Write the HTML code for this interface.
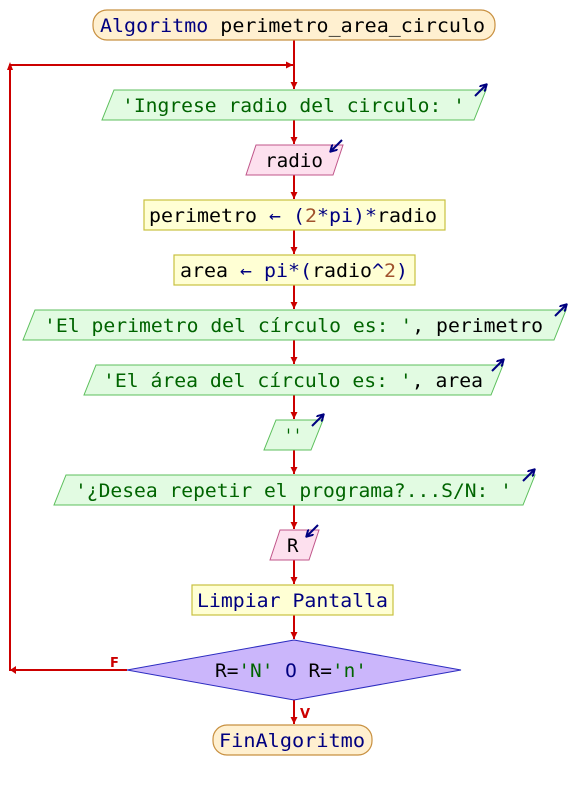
<!DOCTYPE html>
<html><head><meta charset="utf-8"><style>
html,body{margin:0;padding:0;background:#fff;}
svg{display:block;}
text{font-family:"DejaVu Sans Mono","Liberation Mono",monospace;font-size:19px;}
.k{fill:#000080}.s{fill:#006400}.v{fill:#000}.n{fill:#a0522d}
.out{fill:#e2fbe2;stroke:#5cbf5c;stroke-width:1}
.inp{fill:#fde0ee;stroke:#c0568a;stroke-width:1}
.proc{fill:#ffffd4;stroke:#c8c040;stroke-width:1.2}
.term{fill:#fff0d0;stroke:#c89040;stroke-width:1.2}
.ln{stroke:#cc0000;stroke-width:2;fill:none}
.ah{fill:#cc0000}
.sa{stroke:#000080;stroke-width:2;fill:none}
</style></head><body>
<svg width="588" height="790" viewBox="0 0 588 790" xmlns="http://www.w3.org/2000/svg">
<defs>
<marker id="a" markerWidth="10" markerHeight="10" refX="8" refY="5" orient="auto" markerUnits="userSpaceOnUse"><path d="M1,1.5 L8,5 L1,8.5 z" fill="#cc0000"/></marker>
<marker id="b" markerWidth="8" markerHeight="8" refX="6" refY="4" orient="auto" markerUnits="userSpaceOnUse"><path d="M0,0 L7,4 L0,8" stroke="#000080" stroke-width="2" fill="none"/></marker>
</defs>
<line class="ln" x1="294" y1="40" x2="294" y2="89" marker-end="url(#a)"/>
<polyline class="ln" points="127,670 10,670 10,65 293,65" marker-end="url(#a)"/>
<path d="M10,62 L7,70 L13,70 z" class="ah"/>
<path d="M10,670 L16,666 L16,674 z" class="ah"/>
<line class="ln" x1="294" y1="120" x2="294" y2="144" marker-end="url(#a)"/>
<line class="ln" x1="294" y1="175" x2="294" y2="199" marker-end="url(#a)"/>
<line class="ln" x1="294" y1="230" x2="294" y2="254" marker-end="url(#a)"/>
<line class="ln" x1="294" y1="285" x2="294" y2="309" marker-end="url(#a)"/>
<line class="ln" x1="294" y1="340" x2="294" y2="364" marker-end="url(#a)"/>
<line class="ln" x1="294" y1="395" x2="294" y2="419" marker-end="url(#a)"/>
<line class="ln" x1="294" y1="450" x2="294" y2="474" marker-end="url(#a)"/>
<line class="ln" x1="294" y1="505" x2="294" y2="529" marker-end="url(#a)"/>
<line class="ln" x1="294" y1="560" x2="294" y2="584" marker-end="url(#a)"/>
<line class="ln" x1="294" y1="615" x2="294" y2="639" marker-end="url(#a)"/>
<line class="ln" x1="294" y1="700" x2="294" y2="724" marker-end="url(#a)"/>
<text x="110" y="667" style="font-family:'DejaVu Sans',sans-serif;font-size:13px;font-weight:bold;fill:#cc0000">F</text>
<text x="300" y="718" style="font-family:'DejaVu Sans',sans-serif;font-size:13px;font-weight:bold;fill:#cc0000">V</text>

<rect class="term" x="93" y="10" width="402" height="30" rx="14"/>
<text x="100" y="32" textLength="385" lengthAdjust="spacingAndGlyphs"><tspan class="k">Algoritmo</tspan><tspan class="v"> perimetro_area_circulo</tspan></text>

<polygon class="out" points="114,90 486,90 474,120 102,120"/>
<text x="122" y="112" class="s" textLength="343" lengthAdjust="spacingAndGlyphs">'Ingrese radio del circulo: '</text>
<line class="sa" x1="475" y1="96" x2="486" y2="85" marker-end="url(#b)"/>

<polygon class="inp" points="256,145 343,145 333,175 246,175"/>
<text x="265" y="167" class="v" textLength="58" lengthAdjust="spacingAndGlyphs">radio</text>
<line class="sa" x1="342" y1="140" x2="331" y2="151" marker-end="url(#b)"/>

<rect class="proc" x="144" y="200" width="301" height="30"/>
<text x="149" y="222" textLength="288" lengthAdjust="spacingAndGlyphs"><tspan class="v">perimetro </tspan><tspan class="k">← (</tspan><tspan class="n">2</tspan><tspan class="k">*pi)*</tspan><tspan class="v">radio</tspan></text>

<rect class="proc" x="174" y="255" width="241" height="30"/>
<text x="180" y="277" textLength="228" lengthAdjust="spacingAndGlyphs"><tspan class="v">area </tspan><tspan class="k">← pi*(</tspan><tspan class="v">radio</tspan><tspan class="k">^</tspan><tspan class="n">2</tspan><tspan class="k">)</tspan></text>

<polygon class="out" points="35,310 566,310 554,340 23,340"/>
<text x="44" y="332" textLength="499" lengthAdjust="spacingAndGlyphs"><tspan class="s">'El perimetro del círculo es: '</tspan><tspan class="v">, perimetro</tspan></text>
<line class="sa" x1="555" y1="316" x2="566" y2="305" marker-end="url(#b)"/>

<polygon class="out" points="96,365 503,365 491,395 84,395"/>
<text x="103" y="387" textLength="380" lengthAdjust="spacingAndGlyphs"><tspan class="s">'El área del círculo es: '</tspan><tspan class="v">, area</tspan></text>
<line class="sa" x1="492" y1="371" x2="503" y2="360" marker-end="url(#b)"/>

<polygon class="out" points="276,420 323,420 311,450 264,450"/>
<text x="284" y="442" class="s" textLength="18" lengthAdjust="spacingAndGlyphs">''</text>
<line class="sa" x1="312" y1="426" x2="323" y2="415" marker-end="url(#b)"/>

<polygon class="out" points="66,475 535,475 523,505 54,505"/>
<text x="75" y="497" class="s" textLength="437" lengthAdjust="spacingAndGlyphs">'¿Desea repetir el programa?...S/N: '</text>
<line class="sa" x1="523" y1="481" x2="534" y2="470" marker-end="url(#b)"/>

<polygon class="inp" points="280,530 319,530 309,560 270,560"/>
<text x="287" y="552" class="v">R</text>
<line class="sa" x1="318" y1="525" x2="307" y2="536" marker-end="url(#b)"/>

<rect class="proc" x="192" y="585" width="201" height="30"/>
<text x="197" y="607" class="k" textLength="191" lengthAdjust="spacingAndGlyphs">Limpiar Pantalla</text>

<polygon points="294,640 461,670 294,700 127,670" fill="#cbb6fb" stroke="#2c2cc0" stroke-width="1"/>
<text x="215" y="677" textLength="152" lengthAdjust="spacingAndGlyphs"><tspan class="v">R=</tspan><tspan class="s">'N'</tspan><tspan class="k"> O </tspan><tspan class="v">R=</tspan><tspan class="s">'n'</tspan></text>

<rect class="term" x="213" y="725" width="159" height="30" rx="14"/>
<text x="219" y="747" class="k" textLength="146" lengthAdjust="spacingAndGlyphs">FinAlgoritmo</text>
</svg>
</body></html>
